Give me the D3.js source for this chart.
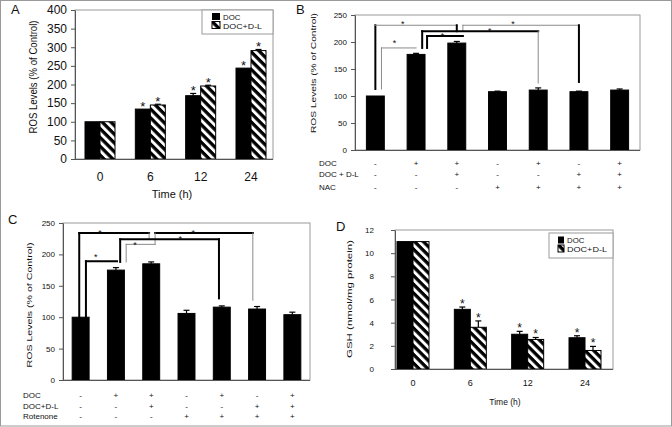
<!DOCTYPE html>
<html><head><meta charset="utf-8">
<script src="https://cdn.jsdelivr.net/npm/d3@7"></script>
<style>body{margin:0;background:#fff} text{font-family:"Liberation Sans",Arial,sans-serif;fill:#111}</style>
</head><body><svg id="c" width="672" height="427"></svg>
<script>
// ---------- DATA ----------
const seriesNames = ["DOC", "DOC+D-L"];
// Panel A: ROS levels over time
const timesA = ["0", "6", "12", "24"];
const rosDOC = [100, 134, 170, 244];
const rosDOCErr = [0, 0, 6, 0];
const rosDL = [100, 145, 196, 291];
const rosDLErr = [0, 2, 2, 3];
const starsDOC_A = [0, 1, 1, 1];
const starsDL_A = [0, 1, 1, 1];
const ticksA = [0, 50, 100, 150, 200, 250, 300, 350, 400];

// Panel B: NAC
const rosB = [100, 177, 198, 108, 111, 108, 111];
const rosBErr = [0, 2, 3, 1, 4, 1, 2];
const rowLabelsB = ["DOC", "DOC + D-L", "NAC"];
const signsB = [
  ["-", "+", "+", "-", "+", "-", "+"],
  ["-", "-", "+", "-", "-", "+", "+"],
  ["-", "-", "-", "+", "+", "+", "+"]
];
const ticksB = [0, 50, 100, 150, 200, 250];
// brackets: [barPos1, value1, barPos2, value2, thick]
const bracketsB = [
  [0, 113, 0, 231, 1], [0, 231, 2, 231, 0], [2, 231, 2, 220, 1],
  [2.15, 231, 5, 231, 0], [2.15, 231, 2.15, 220, 0], [5, 231, 5, 126, 1],
  [1.15, 220, 4, 220, 1], [1.15, 220, 1.15, 189, 1], [4, 220, 4, 124, 0],
  [1.27, 211, 2.15, 211, 1], [1.27, 211, 1.27, 189, 1],
  [0.15, 189, 0.15, 113, 0], [0.15, 189, 1.0, 189, 0]
];
const starsB = [[0.67, 237], [3.38, 237], [2.81, 224], [1.65, 215], [0.47, 202]];

// Panel C: Rotenone
const rosC = [100, 175, 185, 106, 116, 113, 104];
const rosCErr = [0, 4, 3, 5, 2, 4, 4];
const rowLabelsC = ["DOC", "DOC+D-L", "Rotenone"];
const signsC = [
  ["-", "+", "+", "-", "+", "-", "+"],
  ["-", "-", "+", "-", "-", "+", "+"],
  ["-", "-", "-", "+", "+", "+", "+"]
];
const ticksC = [0, 50, 100, 150, 200, 250];
const bracketsC = [
  [-0.04, 97, -0.04, 234, 1], [-0.04, 234, 1.94, 234, 1], [1.94, 234, 1.94, 224, 0],
  [2.11, 234, 4.88, 234, 1], [2.11, 234, 2.11, 216, 0], [4.88, 234, 4.88, 127, 0],
  [1.12, 224, 3.92, 224, 1], [1.12, 224, 1.12, 188, 1], [3.92, 224, 3.92, 130, 1],
  [1.29, 216, 2.11, 216, 0], [1.29, 216, 1.29, 188, 0],
  [0.15, 189, 1.03, 189, 1], [0.15, 189, 0.15, 99, 1]
];
const starsC = [[0.55, 238], [3.19, 238], [2.82, 227], [1.54, 218], [0.43, 199]];

// Panel D: GSH over time
const timesD = ["0", "6", "12", "24"];
const gshDOC = [11, 5.15, 3.0, 2.7];
const gshDOCErr = [0, 0.2, 0.25, 0.17];
const gshDL = [11, 3.6, 2.55, 1.6];
const gshDLErr = [0, 0.55, 0.17, 0.35];
const starsDOC_D = [0, 1, 1, 1];
const starsDL_D = [0, 1, 1, 1];
const ticksD = [0, 2, 4, 6, 8, 10, 12];

// ---------- DRAW ----------
const svg = d3.select("#c");
const defs = svg.append("defs");
const pat = defs.append("pattern").attr("id", "hatch").attr("patternUnits", "userSpaceOnUse")
  .attr("width", 6.2).attr("height", 6.2).attr("patternTransform", "rotate(-45)");
pat.append("rect").attr("width", 6.2).attr("height", 6.2).attr("fill", "#000");
pat.append("rect").attr("width", 2.9).attr("height", 6.2).attr("fill", "#fff");

svg.append("rect").attr("x", 0.5).attr("y", 0.5).attr("width", 671).attr("height", 425.5)
  .attr("fill", "#fff").attr("stroke", "#9a9a9a");

function frame(P) {
  svg.append("rect").attr("x", P.l).attr("y", P.t).attr("width", P.r - P.l).attr("height", P.b - P.t)
    .attr("fill", "none").attr("stroke", "#9a9a9a");
}
function yAxis(P, y, ticks, fs, pad) {
  const g = svg.append("g").attr("transform", `translate(${P.l},0)`)
    .call(d3.axisLeft(y).tickValues(ticks).tickSize(4).tickSizeOuter(0).tickPadding(pad));
  g.select(".domain").attr("stroke", "#555");
  g.selectAll(".tick line").attr("stroke", "#555");
  g.selectAll(".tick text").attr("font-size", fs).attr("font-family", '"Liberation Sans",Arial,sans-serif').attr("fill", "#111");
  svg.append("line").attr("x1", P.l).attr("x2", P.r).attr("y1", P.b + 0.5).attr("y2", P.b + 0.5).attr("stroke", "#555");
}
function ylab(txt, cx, cy, fs, len) {
  svg.append("text").attr("transform", `translate(${cx},${cy}) rotate(-90)`).attr("text-anchor", "middle")
    .attr("font-size", fs).attr("textLength", len).attr("lengthAdjust", "spacingAndGlyphs").text(txt);
}
function bar(x, w, y, v, e, fill, star, sfs) {
  const y0 = y(0);
  svg.append("rect").attr("x", x).attr("y", y(v)).attr("width", w).attr("height", y0 - y(v))
    .attr("fill", fill).attr("stroke", "#000").attr("stroke-width", 1);
  if (e > 0) {
    const cx = x + w / 2;
    svg.append("line").attr("x1", cx).attr("x2", cx).attr("y1", y(v)).attr("y2", y(v + e)).attr("stroke", "#000").attr("stroke-width", 1.2);
    svg.append("line").attr("x1", cx - 3).attr("x2", cx + 3).attr("y1", y(v + e)).attr("y2", y(v + e)).attr("stroke", "#000").attr("stroke-width", 1.2);
  }
  if (star) {
    svg.append("text").attr("x", x + w / 2).attr("y", y(v + e) - 6 + sfs * 0.58).attr("text-anchor", "middle")
      .attr("font-size", sfs).text("*");
  }
}
function legend(bx, by, bw, bh, sx, sw, fs, y1, y2, len2) {
  svg.append("rect").attr("x", bx).attr("y", by).attr("width", bw).attr("height", bh).attr("fill", "#fff").attr("stroke", "#9a9a9a");
  svg.append("rect").attr("x", sx).attr("y", y1 - 6.5).attr("width", sw).attr("height", 7).attr("fill", "#000");
  svg.append("rect").attr("x", sx).attr("y", y2 - 7).attr("width", sw).attr("height", 7).attr("fill", "url(#hatch)").attr("stroke", "#000");
  svg.append("text").attr("x", sx + sw + 3).attr("y", y1).attr("font-size", fs).text(seriesNames[0]);
  svg.append("text").attr("x", sx + sw + 3).attr("y", y2).attr("font-size", fs)
    .attr("textLength", len2).attr("lengthAdjust", "spacingAndGlyphs").text(seriesNames[1]);
}
function brackets(list, stars, xp, y) {
  list.forEach(s => {
    svg.append("line").attr("x1", xp(s[0])).attr("x2", xp(s[2])).attr("y1", y(s[1])).attr("y2", y(s[3]))
      .attr("stroke", s[4] ? "#000" : "#8a8a8a").attr("stroke-width", s[4] ? 2 : 1).attr("stroke-linecap", "square");
  });
  stars.forEach(s => {
    svg.append("text").attr("x", xp(s[0])).attr("y", y(s[1]) + 5).attr("text-anchor", "middle")
      .attr("font-size", 9).attr("fill", "#333").text("*");
  });
}
function table(labels, signs, lx, rowsY, xc, fs) {
  labels.forEach((l, i) => {
    svg.append("text").attr("x", lx).attr("y", rowsY[i]).attr("font-size", fs).text(l);
    signs[i].forEach((s, j) => {
      svg.append("text").attr("x", xc(j)).attr("y", rowsY[i]).attr("text-anchor", "middle").attr("font-size", fs).text(s);
    });
  });
}
function letter(t, x, y) { svg.append("text").attr("x", x).attr("y", y).attr("font-size", 13).attr("font-family", '"DejaVu Sans",sans-serif').text(t); }

// ---- Panel A ----
{
  const P = { l: 75, r: 273, t: 10, b: 159 };
  const y = d3.scaleLinear().domain([0, 400]).range([P.b, P.t]);
  const x = d3.scalePoint().domain(timesA).range([100, 251]);
  const sub = d3.scaleBand().domain(seriesNames).range([-15, 15]);
  frame(P);
  timesA.forEach((t, i) => {
    bar(x(t) + sub(seriesNames[0]), sub.bandwidth(), y, rosDOC[i], rosDOCErr[i], "#000", starsDOC_A[i], 13);
    bar(x(t) + sub(seriesNames[1]), sub.bandwidth(), y, rosDL[i], rosDLErr[i], "url(#hatch)", starsDL_A[i], 13);
    svg.append("text").attr("x", x(t)).attr("y", 181).attr("text-anchor", "middle").attr("font-size", 12).text(t);
  });
  yAxis(P, y, ticksA, 12, 4);
  ylab("ROS Levels (% of Control)", 37, 77, 11, 113);
  svg.append("text").attr("x", 172).attr("y", 198).attr("text-anchor", "middle").attr("font-size", 11).text("Time (h)");
  legend(202, 10, 71, 24, 212, 8, 7.8, 19.5, 28.5, 39);
  letter("A", 11, 14);
}
// ---- Panel B ----
{
  const P = { l: 355, r: 640, t: 15, b: 150 };
  const y = d3.scaleLinear().domain([0, 250]).range([P.b, P.t]);
  const x = d3.scaleBand().domain(d3.range(rosB.length)).range([P.l, P.r]).paddingInner(0.56).paddingOuter(0.28);
  const xc = i => x(i) + x.bandwidth() / 2;
  const xp = d3.scaleLinear().domain([0, rosB.length - 1]).range([xc(0), xc(rosB.length - 1)]);
  frame(P);
  rosB.forEach((v, i) => bar(x(i), x.bandwidth(), y, v, rosBErr[i], "#000", 0, 9));
  yAxis(P, y, ticksB, 8, 4);
  brackets(bracketsB, starsB, xp, y);
  ylab("ROS Levels (% of Control)", 316, 73, 8, 120);
  table(rowLabelsB, signsB, 319, [166, 177, 190], xc, 8);
  letter("B", 296, 14);
}
// ---- Panel C ----
{
  const P = { l: 63, r: 310, t: 223, b: 380 };
  const y = d3.scaleLinear().domain([0, 250]).range([P.b, P.t]);
  const x = d3.scaleBand().domain(d3.range(rosC.length)).range([P.l, P.r]).paddingInner(0.52).paddingOuter(0.26);
  const xc = i => x(i) + x.bandwidth() / 2;
  const xp = d3.scaleLinear().domain([0, rosC.length - 1]).range([xc(0), xc(rosC.length - 1)]);
  frame(P);
  rosC.forEach((v, i) => bar(x(i), x.bandwidth(), y, v, rosCErr[i], "#000", 0, 9));
  yAxis(P, y, ticksC, 8, 4);
  brackets(bracketsC, starsC, xp, y);
  ylab("ROS Levels (% of Control)", 32, 305, 8, 125);
  table(rowLabelsC, signsC, 23, [398, 409, 419], xc, 8);
  letter("C", 8, 224);
}
// ---- Panel D ----
{
  const P = { l: 395, r: 613, t: 230, b: 369 };
  const y = d3.scaleLinear().domain([0, 12]).range([P.b, P.t]);
  const x = d3.scalePoint().domain(timesD).range([413, 585]);
  const sub = d3.scaleBand().domain(seriesNames).range([-16, 16]);
  frame(P);
  timesD.forEach((t, i) => {
    bar(x(t) + sub(seriesNames[0]), sub.bandwidth(), y, gshDOC[i], gshDOCErr[i], "#000", starsDOC_D[i], 12);
    bar(x(t) + sub(seriesNames[1]), sub.bandwidth(), y, gshDL[i], gshDLErr[i], "url(#hatch)", starsDL_D[i], 12);
    svg.append("text").attr("x", x(t)).attr("y", 386).attr("text-anchor", "middle").attr("font-size", 9).text(t);
  });
  yAxis(P, y, ticksD, 8, 17);
  ylab("GSH (nmol/mg protein)", 352, 299, 8, 118);
  svg.append("text").attr("x", 505).attr("y", 405).attr("text-anchor", "middle").attr("font-size", 8.5).text("Time (h)");
  legend(549, 233, 64, 25, 558, 6, 7.8, 243, 252, 40);
  letter("D", 336, 231);
}
</script></body></html>
